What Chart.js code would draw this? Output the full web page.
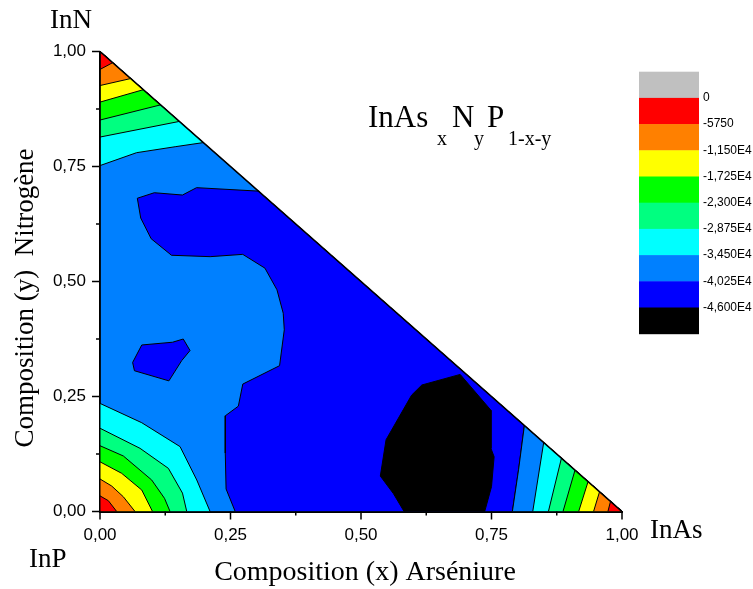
<!DOCTYPE html>
<html>
<head>
<meta charset="utf-8">
<script src="https://cdn.jsdelivr.net/npm/chart.js@4.4.0/dist/chart.umd.min.js"></script>
<style>
  body { margin: 0; background: #fff; }
  #wrap { width: 753px; height: 589px; }
</style>
</head>
<body>
<div id="wrap"><canvas id="canvas" width="753" height="589"></canvas></div>
<script>
// colour scale, top (grey) to bottom (black)
const levelLabels = ['0', '-5750', '-1,150E4', '-1,725E4', '-2,300E4', '-2,875E4', '-3,450E4', '-4,025E4', '-4,600E4'];
const levelColors = ['#c0c0c0', '#ff0000', '#ff8000', '#ffff00', '#00ff00', '#00ff80', '#00ffff', '#0080ff', '#0000ff', '#000000'];

const axisTicks = [0, 0.125, 0.25, 0.375, 0.5, 0.625, 0.75, 0.875, 1];
const axisTickLabels = ['0,00', '', '0,25', '', '0,50', '', '0,75', '', '1,00'];

// InN corner: contour lines from the y axis to the hypotenuse, outermost first
const linesInN = [
  [[0, 0.752], [0.070, 0.780], [0.144, 0.793], [0.198, 0.802]],
  [[0, 0.814], [0.152, 0.848]],
  [[0, 0.851], [0.116, 0.884]],
  [[0, 0.890], [0.083, 0.917]],
  [[0, 0.926], [0.0588, 0.9412]],
  [[0, 0.961], [0.0243, 0.9757]]
];
const fillInN = [6, 5, 4, 3, 2, 1];

// InP corner: contour lines from the y axis to the x axis
const linesInP = [
  [[0, 0.235], [0.080, 0.193], [0.1534, 0.141], [0.1854, 0.0685], [0.2109, 0]],
  [[0, 0.181], [0.0767, 0.1373], [0.131, 0.0938], [0.158, 0.040], [0.1662, 0]],
  [[0, 0.143], [0.0447, 0.1207], [0.099, 0.0685], [0.1236, 0.0286], [0.1342, 0]],
  [[0, 0.108], [0.0415, 0.083], [0.080, 0.0467], [0.1006, 0]],
  [[0, 0.0707], [0.0224, 0.0554], [0.0447, 0.032], [0.0671, 0]],
  [[0, 0.034], [0.016, 0.0235], [0.032, 0]]
];
const fillInP = [6, 5, 4, 3, 2, 1];

// InAs corner: contour lines from the x axis to the hypotenuse
const linesInAs = [
  [[0.790, 0], [0.802, 0.092], [0.813, 0.187]],
  [[0.829, 0], [0.850, 0.150]],
  [[0.859, 0], [0.884, 0.116]],
  [[0.887, 0], [0.910, 0.090]],
  [[0.917, 0], [0.935, 0.065]],
  [[0.9455, 0], [0.957, 0.043]],
  [[0.973, 0], [0.978, 0.022]]
];
const fillInAs = [7, 6, 5, 4, 3, 2, 1];

// -4,025E4 .. -4,600E4 zone (closed on its right by the first InAs line)
const blueZone = [
  [0.3035, 0.6965], [0.185, 0.704], [0.158, 0.688], [0.104, 0.693], [0.0715, 0.681],
  [0.078, 0.638], [0.098, 0.593], [0.137, 0.557], [0.211, 0.554], [0.2735, 0.559],
  [0.316, 0.529], [0.339, 0.482], [0.351, 0.431], [0.353, 0.395], [0.344, 0.317],
  [0.2735, 0.277], [0.265, 0.229], [0.240, 0.208], [0.240, 0.127], [0.2415, 0.049],
  [0.259, 0]
];
const blueIsland = [
  [0.080, 0.362], [0.139, 0.368], [0.1595, 0.375], [0.1725, 0.350],
  [0.1565, 0.328], [0.132, 0.284], [0.066, 0.306], [0.0625, 0.324]
];
// below -4,600E4
const blackZone = [
  [0.6165, 0.275], [0.690, 0.298], [0.749, 0.220], [0.749, 0.137], [0.755, 0.119],
  [0.750, 0.054], [0.737, 0], [0.5825, 0], [0.562, 0.039], [0.537, 0.077],
  [0.548, 0.156], [0.597, 0.253]
];
const triangle = [[0, 0], [1, 0], [0, 1]];

// paint order: first entry is at the bottom
const shapes = [
  { pts: triangle, c: 7 },
  { pts: blueZone.concat(linesInAs[0]), c: 8 },
  { pts: blueIsland, c: 8 },
  { pts: blackZone, c: 9 },
  ...linesInN.map((l, i) => ({ pts: l.concat([[0, 1]]), c: fillInN[i] })),
  ...linesInP.map((l, i) => ({ pts: l.concat([[0, 0]]), c: fillInP[i] })),
  ...linesInAs.map((l, i) => ({ pts: l.concat([[1, 0]]), c: fillInAs[i] }))
];

const datasets = shapes.map(s => ({
  data: s.pts.concat([s.pts[0]]).map(p => ({ x: p[0], y: p[1] })),
  showLine: true,
  fill: 'shape',
  backgroundColor: levelColors[s.c],
  borderColor: '#000',
  borderWidth: 1,
  pointRadius: 0,
  tension: 0
}));
// edge x + y = 1 on top of everything
datasets.push({
  data: [{ x: 0, y: 1 }, { x: 1, y: 0 }],
  showLine: true,
  fill: false,
  borderColor: '#000',
  borderWidth: 1.6,
  pointRadius: 0
});
// chart.js draws dataset 0 last, so reverse
datasets.reverse();

const serif = '"Liberation Serif", "Times New Roman", serif';

const decor = {
  id: 'decor',
  afterDraw(chart) {
    const ctx = chart.ctx;
    const xs = chart.scales.x, ys = chart.scales.y;
    ctx.save();
    ctx.strokeStyle = '#000';
    ctx.lineWidth = 1.5;
    axisTicks.forEach((v, i) => {
      const len = axisTickLabels[i] ? 8 : 4;
      const px = xs.getPixelForValue(v), py = ys.getPixelForValue(v);
      ctx.beginPath();
      ctx.moveTo(px, xs.top); ctx.lineTo(px, xs.top + len);
      ctx.moveTo(ys.right, py); ctx.lineTo(ys.right - len, py);
      ctx.stroke();
    });

    // colour bar
    const top = 71.7, h = 26.2;
    levelColors.forEach((c, i) => {
      ctx.fillStyle = c;
      ctx.fillRect(639, top + i * h, 60, h + 0.5);
    });
    ctx.fillStyle = '#000';
    ctx.font = '12px "Liberation Sans", Arial, sans-serif';
    ctx.textBaseline = 'middle';
    ctx.textAlign = 'left';
    levelLabels.forEach((t, i) => ctx.fillText(t, 703, top + (i + 1) * h));

    // title with subscripts
    ctx.textBaseline = 'alphabetic';
    const big = '31px ' + serif, sub = '20px ' + serif;
    [['InAs', 368, 127, big], ['x', 437, 145, sub], ['N', 452, 127, big],
     ['y', 474, 145, sub], ['P', 487, 127, big], ['1-x-y', 508, 145, sub]]
      .forEach(([t, x, y, f]) => { ctx.font = f; ctx.fillText(t, x, y); });

    // corner compounds and axis titles
    ctx.font = '27px ' + serif;
    ctx.fillText('InN', 50, 28);
    ctx.fillText('InP', 29, 567);
    ctx.fillText('InAs', 650, 538);
    ctx.textAlign = 'center';
    ctx.font = '28px ' + serif;
    ctx.fillText('Composition (x) Arséniure', 365, 580);
    ctx.font = '27px ' + serif;
    ctx.translate(33, 298);
    ctx.rotate(-Math.PI / 2);
    ctx.fillText('Composition (y)  Nitrogène', 0, 0);
    ctx.restore();
  }
};

Chart.defaults.font.family = '"Liberation Sans", Arial, sans-serif';
Chart.defaults.font.size = 17;
Chart.defaults.color = '#000';

const axis = (fit) => ({
  type: 'linear',
  min: 0,
  max: 1,
  afterBuildTicks: s => { s.ticks = axisTicks.map(v => ({ value: v })); },
  afterFit: fit,
  ticks: { autoSkip: false, maxRotation: 0, padding: 14, callback: (v, i) => axisTickLabels[i] },
  grid: { display: false, drawTicks: false },
  border: { display: true, color: '#000', width: 2 }
});

const canvas = document.getElementById('canvas');
new Chart(canvas, {
  type: 'scatter',
  data: { datasets: datasets },
  options: {
    responsive: false,
    animation: false,
    events: [],
    layout: { padding: { left: 0, right: 131, top: 51.5, bottom: 37.5 } },
    scales: {
      x: axis(s => { s.height = 40; }),
      y: axis(s => { s.width = 100; })
    },
    plugins: { legend: { display: false }, tooltip: { enabled: false } }
  },
  plugins: [decor]
});
</script>
</body>
</html>
